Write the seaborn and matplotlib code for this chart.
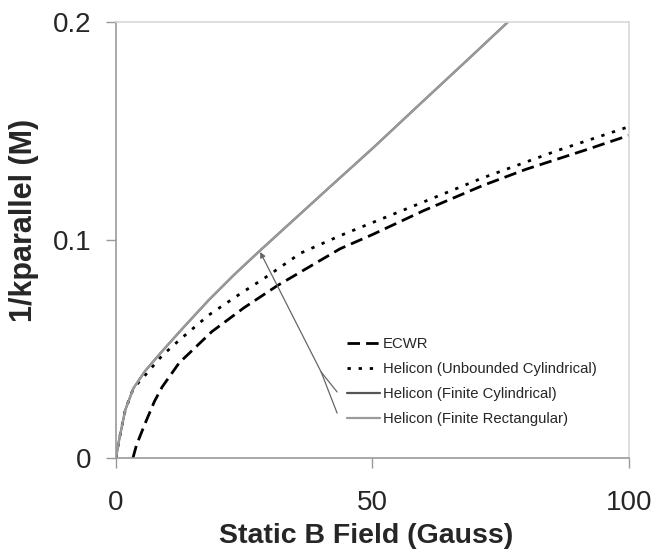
import numpy
import pandas
import matplotlib
matplotlib.use("Agg")
import matplotlib.pyplot as plt
import seaborn

# values
ecwr_b = [3.3, 4, 5.7, 7.5, 9, 12.3, 18.7, 25, 31.4, 43.7, 50, 60, 71.5, 80, 91.8, 100]
ecwr_k = [0.0, 0.006, 0.016, 0.026, 0.0326, 0.0436, 0.058, 0.069, 0.079, 0.0960,
          0.1025, 0.1135, 0.125, 0.1325, 0.1415, 0.148]

unb_b = [0, 0.5, 1.8, 3.4, 5.7, 9, 12.3, 18.1, 24, 29, 36, 43.7, 50, 60, 71.5, 86, 100]
unb_k = [0.0, 0.007, 0.022, 0.032, 0.038, 0.047, 0.054, 0.0656, 0.075, 0.0826,
         0.094, 0.102, 0.108, 0.1175, 0.1285, 0.141, 0.152]

fin_b = [0, 0.5, 1.8, 3.4, 5.7, 9, 13, 18.1, 23, 28, 35, 42, 50, 60, 68, 76.4]
cyl_k = [0.0, 0.007, 0.022, 0.032, 0.040, 0.049, 0.0595, 0.0725, 0.084, 0.095,
         0.110, 0.125, 0.142, 0.164, 0.1815, 0.200]
rect_k = [0.0, 0.007, 0.022, 0.032, 0.040, 0.049, 0.0595, 0.0725, 0.084, 0.095,
          0.110, 0.125, 0.142, 0.164, 0.1815, 0.200]

labels = ["ECWR", "Helicon (Unbounded Cylindrical)",
          "Helicon (Finite Cylindrical)", "Helicon (Finite Rectangular)"]

# arrow pointing from the legend to the finite curves
arrow_tip = (28.1, 0.0945)
arrow_joint = (40.0, 0.0394)
arrow_ends = [(43.1, 0.0303), (43.1, 0.0206)]

seaborn.set_style("white")
plt.rcParams["font.family"] = ["Liberation Sans", "DejaVu Sans"]

fig = plt.figure(figsize=(6.56, 5.54), dpi=100)
ax = fig.add_axes([116 / 656, 96 / 554, 513 / 656, 436 / 554])

seaborn.lineplot(x=ecwr_b, y=ecwr_k, ax=ax, color="black", lw=2.0,
                 linestyle=(0, (4.5, 2.2)), label=labels[0])
seaborn.lineplot(x=unb_b, y=unb_k, ax=ax, color="black", lw=2.0,
                 linestyle=(0, (1.2, 2.8)), label=labels[1])
seaborn.lineplot(x=fin_b, y=cyl_k, ax=ax, color="#555555", lw=1.6,
                 label=labels[2])
seaborn.lineplot(x=fin_b, y=rect_k, ax=ax, color="#9a9a9a", lw=1.6,
                 label=labels[3])

ax.annotate("", xy=arrow_tip, xytext=arrow_joint,
            arrowprops=dict(arrowstyle="-|>", color="#666666", lw=0.9,
                            mutation_scale=8, shrinkA=0, shrinkB=0))
for end in arrow_ends:
    ax.plot([arrow_joint[0], end[0]], [arrow_joint[1], end[1]],
            color="#666666", lw=0.9)

ax.set_xlim(0, 100)
ax.set_ylim(0, 0.2)
ax.set_xticks([0, 50, 100])
ax.set_yticks([0, 0.1, 0.2])
ax.set_xticklabels(["0", "50", "100"])
ax.set_yticklabels(["0", "0.1", "0.2"])
ax.tick_params(axis="both", direction="out", length=7, width=1,
               color="#999999", labelsize=20, left=True, bottom=True)
ax.tick_params(axis="x", pad=16)
ax.tick_params(axis="y", pad=11)

for side in ["left", "bottom"]:
    ax.spines[side].set_color("#999999")
    ax.spines[side].set_linewidth(1.2)
for side in ["top", "right"]:
    ax.spines[side].set_color("#d8d8d8")
    ax.spines[side].set_linewidth(1.2)

ax.set_xlabel("Static B Field (Gauss)", fontsize=20.5, fontweight="bold")
ax.set_ylabel("1/kparallel (M)", fontsize=22, fontweight="bold")
ax.xaxis.set_label_coords(0.487, -0.150)
ax.yaxis.set_label_coords(-0.150, 0.546)

ax.legend(loc="upper left", bbox_to_anchor=(347 / 656, 1 - 337 / 554),
          bbox_transform=fig.transFigure, frameon=False, fontsize=10.7,
          handlelength=2.2, handletextpad=0.2, labelspacing=0.74,
          borderpad=0, borderaxespad=0)

fig.savefig("out.png", dpi=100)
